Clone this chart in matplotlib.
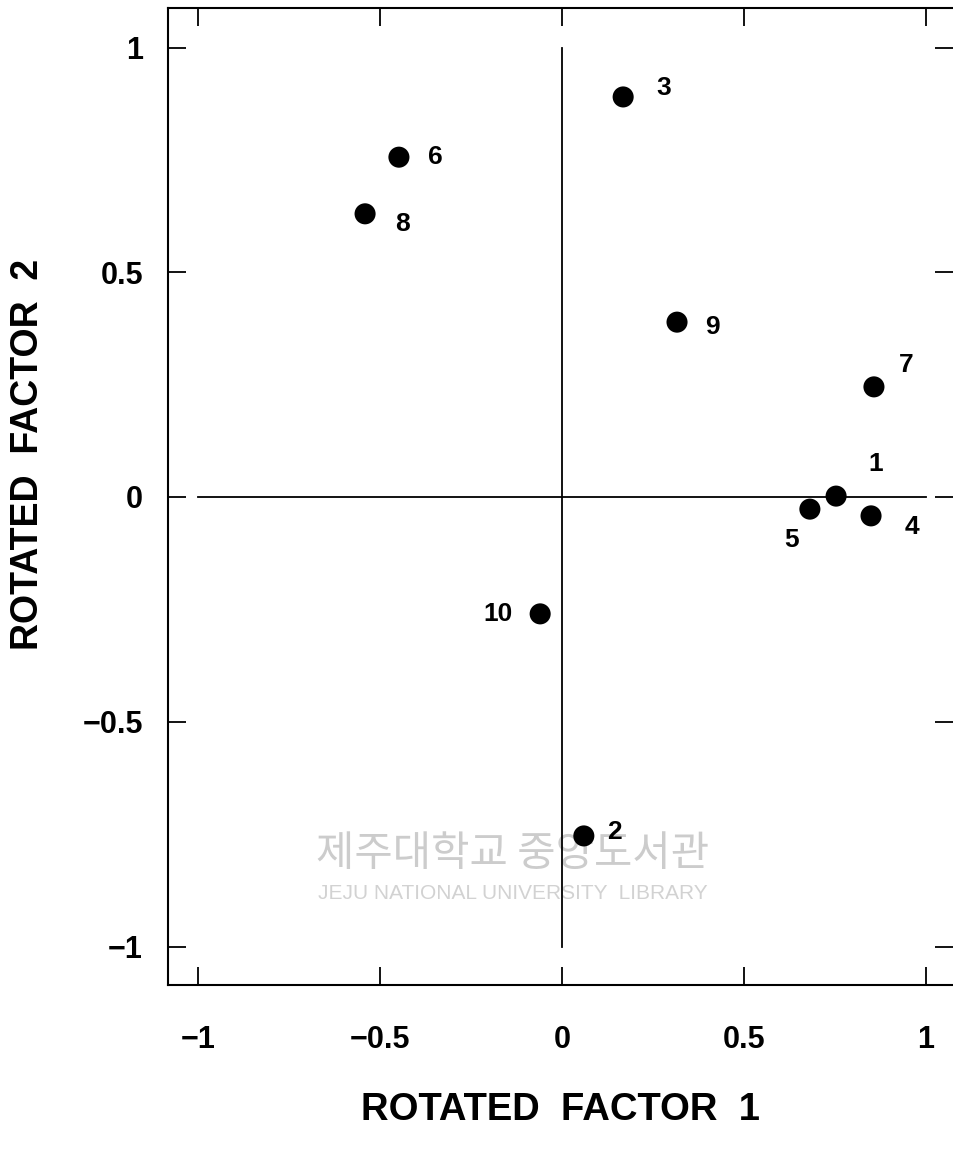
import matplotlib
matplotlib.use("Agg")
import matplotlib.pyplot as plt

# ---- data ----
labels = ["1", "2", "3", "4", "5", "6", "7", "8", "9", "10"]
factor1 = [0.753, 0.060, 0.168, 0.849, 0.681, -0.448, 0.857, -0.541, 0.316, -0.060]
factor2 = [0.002, -0.754, 0.890, -0.042, -0.027, 0.756, 0.245, 0.630, 0.389, -0.260]
xticks = [-1, -0.5, 0, 0.5, 1]
yticks = [-1, -0.5, 0, 0.5, 1]
tick_labels = ["\u22121", "\u22120.5", "0", "0.5", "1"]

# label offsets (pixels, dx right, dy up)
label_offsets = {
    "1": (40, 32), "2": (31, 4), "3": (41, 9), "4": (41, -11), "5": (-18, -31),
    "6": (36, 0), "7": (32, 22), "8": (37, -10), "9": (35, -5), "10": (-42, 0),
}

W, H = 954, 1151
fig = plt.figure(figsize=(W / 100, H / 100), dpi=100)
left_px, right_px, top_px, bot_px = 168, 953, 8, 985
ax = fig.add_axes([left_px / W, (H - bot_px) / H, (right_px - left_px) / W, (bot_px - top_px) / H])

x0_px, xs = 562, 364.0
y0_px, ys = 497, 449.5
ax.set_xlim((left_px - x0_px) / xs, (right_px - x0_px) / xs)
ax.set_ylim((y0_px - bot_px) / ys, (y0_px - top_px) / ys)

FONT = "Liberation Sans"

# zero lines
ax.plot([-1, 1], [0, 0], color="black", lw=1.3, zorder=1)
ax.plot([0, 0], [-1, 1], color="black", lw=1.3, zorder=1)

ax.scatter(factor1, factor2, s=230, color="black", zorder=3, edgecolors="none")
for lab, x, y in zip(labels, factor1, factor2):
    dx, dy = label_offsets[lab]
    ax.annotate(lab, (x, y), xytext=(dx * 0.72, dy * 0.72), textcoords="offset points",
                ha="center", va="center", fontsize=19, fontweight="bold", family=FONT,
                zorder=4)

# watermark
ax.text(-0.135, -0.795, "제주대학교 중앙도서관", ha="center", va="center", fontsize=30,
        color="#cccccc", family=["Noto Sans CJK KR", "DejaVu Sans"], zorder=0)
ax.text(-0.135, -0.883, "JEJU NATIONAL UNIVERSITY  LIBRARY", ha="center", va="center",
        fontsize=15, color="#d2d2d2", family=FONT, zorder=0)

ax.set_xticks(xticks)
ax.set_yticks(yticks)
ax.set_xticklabels(tick_labels)
ax.set_yticklabels(tick_labels)
ax.tick_params(axis="both", direction="in", length=13, width=1.3,
               top=True, right=True, labelsize=22)
ax.tick_params(axis="x", pad=29)
ax.tick_params(axis="y", pad=18)
for t in ax.get_xticklabels() + ax.get_yticklabels():
    t.set_fontweight("bold")
    t.set_family(FONT)

for side in ["left", "bottom", "top"]:
    ax.spines[side].set_linewidth(1.5)
ax.spines["right"].set_visible(False)

fig.text(561 / W, (H - 1110) / H, "ROTATED  FACTOR  1", ha="center", va="center",
         fontsize=27.5, fontweight="bold", family=FONT)
fig.text(28 / W, (H - 454) / H, "ROTATED  FACTOR  2", ha="center", va="center",
         rotation=90, fontsize=27, fontweight="bold", family=FONT)

fig.savefig("out.png", dpi=100)
